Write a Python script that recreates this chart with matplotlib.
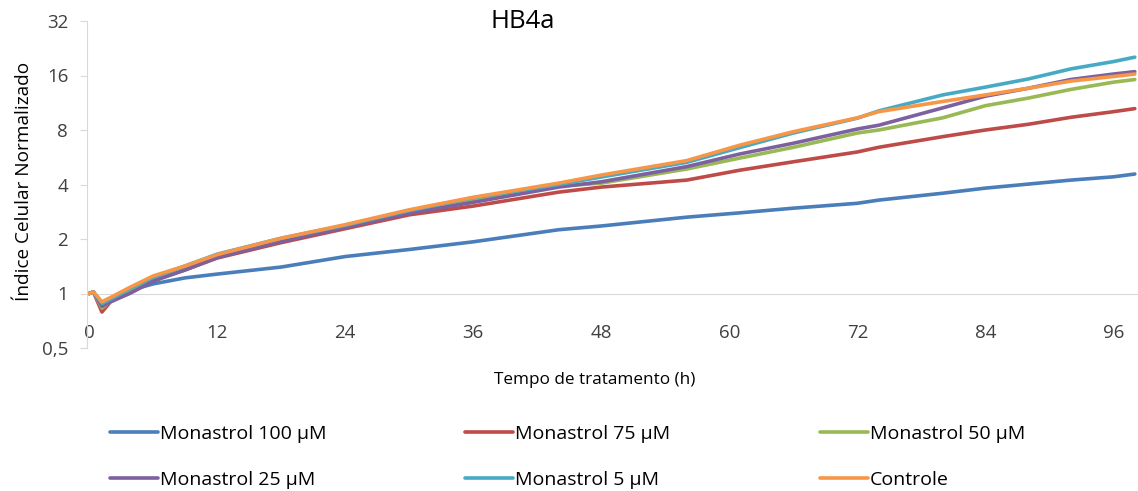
import matplotlib
matplotlib.use("Agg")
import matplotlib.pyplot as plt
from matplotlib.ticker import FixedLocator, FixedFormatter

plt.rcParams['font.family'] = ['Open Sans', 'DejaVu Sans']

# tempo (h)
t = [0, 0.4, 1.2, 2, 3.8, 6, 9, 12, 18, 24, 30, 36, 44, 48, 56, 61, 66, 72, 74, 80, 84, 88, 92, 96, 98]

mon100 = [1.0, 1.02, 0.87, 0.92, 1.04, 1.13, 1.22, 1.28, 1.40, 1.60, 1.75, 1.93, 2.25, 2.36, 2.64, 2.79,
          2.96, 3.15, 3.28, 3.58, 3.82, 4.02, 4.23, 4.41, 4.57]
mon75 = [1.0, 1.02, 0.79, 0.90, 1.01, 1.18, 1.35, 1.57, 1.91, 2.28, 2.72, 3.04, 3.63, 3.87, 4.23, 4.8,
         5.34, 6.05, 6.42, 7.35, 8.0, 8.6, 9.4, 10.1, 10.5]
mon50 = [1.0, 1.02, 0.83, 0.91, 1.03, 1.20, 1.38, 1.61, 1.98, 2.35, 2.82, 3.30, 3.92, 4.07, 4.87, 5.6,
         6.42, 7.7, 8.0, 9.34, 10.9, 12.0, 13.4, 14.7, 15.2]
mon25 = [1.0, 1.02, 0.85, 0.90, 1.00, 1.17, 1.35, 1.58, 1.94, 2.32, 2.78, 3.19, 3.87, 4.14, 5.02, 5.9,
         6.76, 8.1, 8.5, 10.6, 12.3, 13.6, 15.2, 16.3, 16.8]
mon5 = [1.0, 1.02, 0.88, 0.93, 1.06, 1.23, 1.42, 1.65, 2.02, 2.38, 2.87, 3.38, 4.0, 4.4, 5.3, 6.4,
        7.7, 9.3, 10.2, 12.5, 13.8, 15.3, 17.4, 19.1, 20.2]
controle = [1.0, 1.02, 0.90, 0.95, 1.08, 1.25, 1.42, 1.64, 2.02, 2.40, 2.90, 3.40, 4.07, 4.51, 5.42, 6.6,
            7.83, 9.34, 10.1, 11.5, 12.5, 13.6, 14.9, 15.8, 16.3]

series = [
    ("Monastrol 100 µM", mon100, "#4A7EBB"),
    ("Monastrol 75 µM", mon75, "#BE4B48"),
    ("Monastrol 50 µM", mon50, "#98B954"),
    ("Monastrol 25 µM", mon25, "#7D60A0"),
    ("Monastrol 5 µM", mon5, "#46AAC5"),
    ("Controle", controle, "#F79646"),
]

y_ticks = [0.5, 1, 2, 4, 8, 16, 32]
y_labels = ["0,5", "1", "2", "4", "8", "16", "32"]
x_ticks = [0, 12, 24, 36, 48, 60, 72, 84, 96]

W, H = 1138, 491
fig = plt.figure(figsize=(W / 100, H / 100), dpi=100)
ax = fig.add_axes([87 / W, 1 - 348 / H, (W - 87) / W, (348 - 21) / H])

lines = {}
for name, vals, col in series:
    ln, = ax.plot(t, vals, color=col, lw=2.6, solid_capstyle='round', solid_joinstyle='round', label=name)
    lines[name] = ln

ax.set_yscale('log', base=2)
ax.set_ylim(0.5, 32)
ax.set_xlim(-0.2, 98.3)
ax.yaxis.set_major_locator(FixedLocator(y_ticks))
ax.yaxis.set_major_formatter(FixedFormatter(y_labels))
ax.yaxis.set_minor_locator(FixedLocator([]))
ax.set_xticks(x_ticks)
ax.set_xticklabels([str(v) for v in x_ticks])

for s in ['top', 'right']:
    ax.spines[s].set_visible(False)
ax.spines['left'].set_color('#d9d9d9')
ax.spines['bottom'].set_position(('data', 1))
ax.spines['bottom'].set_color('#d9d9d9')
ax.spines['bottom'].set_zorder(0)

ax.tick_params(axis='y', length=5, color='#d9d9d9', labelsize=13.5, labelcolor='#404040', pad=8.5)
ax.tick_params(axis='x', length=0, labelsize=13.5, labelcolor='#404040', pad=22)

fig.text(523 / W, 1 - 22 / H, "HB4a", ha='center', va='center', fontsize=18.5, color='black')
fig.text(24 / W, 1 - 181 / H, "Índice Celular Normalizado", rotation=90, ha='center', va='center',
         fontsize=13.7, color='black')
fig.text(595 / W, 1 - 380 / H, "Tempo de tratamento (h)", ha='center', va='center', fontsize=12.3, color='black')

cols = [
    (110, ["Monastrol 100 µM", "Monastrol 25 µM"]),
    (465, ["Monastrol 75 µM", "Monastrol 5 µM"]),
    (820, ["Monastrol 50 µM", "Controle"]),
]
for x0, names in cols:
    fig.legend([lines[n] for n in names], names, loc='upper left',
               bbox_to_anchor=(x0 / W, 1 - 425 / H), frameon=False, fontsize=14,
               handlelength=2.45, handletextpad=0.1, labelspacing=1.45,
               borderpad=0, borderaxespad=0)

fig.savefig("out.png", dpi=100)
